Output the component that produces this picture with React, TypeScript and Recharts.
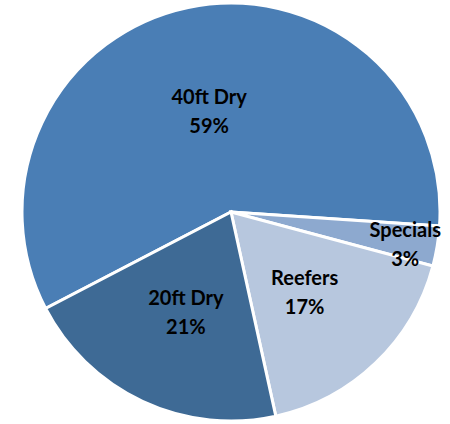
import { PieChart, Pie, Cell } from 'recharts';

const categories = ['40ft Dry', 'Specials', 'Reefers', '20ft Dry'];
const shares = [58.7, 3.1, 17.4, 20.8];
const colors = ['#4A7EB5', '#8DA9CF', '#B7C7DE', '#3E6A95'];

const data = categories.map((name, i) => ({ name, value: shares[i] }));

const RAD = Math.PI / 180;

// Excel "best fit" pushes the small slice's label further out
const labelRadius = (name: string) => (name === 'Specials' ? 0.845 : 0.51);

function renderLabel(props: any) {
  const { cx, cy, midAngle, outerRadius, name, value } = props;
  const r = outerRadius * labelRadius(name);
  const x = cx + r * Math.cos(-midAngle * RAD);
  const y = cy + r * Math.sin(-midAngle * RAD);
  return (
    <text
      x={x}
      y={y}
      textAnchor="middle"
      fill="#000"
      fontFamily="Lato, 'Open Sans', sans-serif"
      fontWeight="bold"
      fontSize={20}
    >
      <tspan x={x} dy={-4}>
        {name}
      </tspan>
      <tspan x={x} dy={29}>
        {`${Math.round(value)}%`}
      </tspan>
    </text>
  );
}

export default function App() {
  return (
    <div style={{ position: 'absolute', left: 0, top: 0, background: '#fff' }}>
      <PieChart width={450} height={424} margin={{ top: 0, right: 0, bottom: 0, left: 0 }}>
        <Pie
          data={data}
          dataKey="value"
          nameKey="name"
          cx={231}
          cy={212}
          outerRadius={209}
          startAngle={207.5}
          endAngle={-152.5}
          stroke="#fff"
          strokeWidth={3}
          label={renderLabel}
          labelLine={false}
          isAnimationActive={false}
        >
          {data.map((d, i) => (
            <Cell key={d.name} fill={colors[i]} />
          ))}
        </Pie>
      </PieChart>
    </div>
  );
}
